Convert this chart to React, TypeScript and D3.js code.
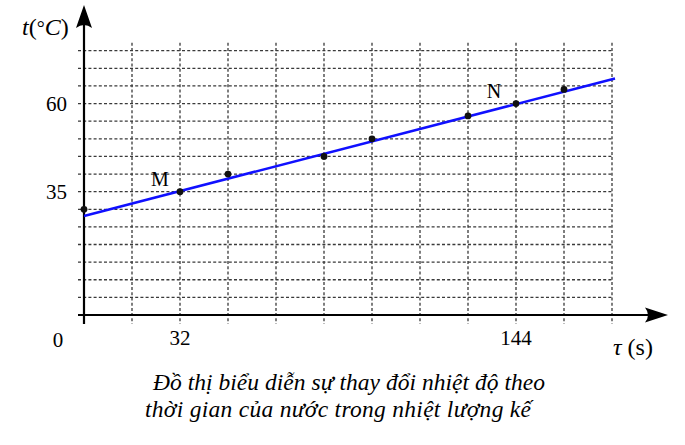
import * as d3 from 'd3';
import React from 'react';

const WIDTH = 685;
const HEIGHT = 445;

// measured points (time in s, temperature in °C)
const tauValues = [0, 32, 48, 80, 96, 128, 144, 160];
const tempValues = [30, 35, 40, 45, 50, 56.5, 60, 64];

// fitted straight line through M and N
const fitTau = [0, 177];
const fitTemp = [28.1, 67.1];

const xTickValues = [32, 144];
const xTickLabels = ['32', '144'];
const yTickValues = [35, 60];
const yTickLabels = ['35', '60'];

const labelNames = ['M', 'N'];
const labelTau = [32, 144];
const labelTemp = [35, 60];

const captionLines = [
  'Đồ thị biểu diễn sự thay đổi nhiệt độ theo',
  'thời gian của nước trong nhiệt lượng kế',
];

const X_MAX = 176;
const Y_MAX = 75;
const X_STEP = 16;
const Y_STEP = 5;

const SERIF = 'Liberation Serif';
const GRID_COLOR = '#3a3a3a';

const x = d3.scaleLinear().domain([0, X_MAX]).range([84, 612]);
const y = d3.scaleLinear().domain([0, Y_MAX]).range([315, 50.7]);

const fitLine = d3
  .line<number>()
  .x(d => x(d))
  .y((d, i) => y(fitTemp[i]));

const App: React.FC = () => {
  const xGrid = d3.range(X_STEP, X_MAX + 1, X_STEP);
  const yGrid = d3.range(Y_STEP, Y_MAX + 1, Y_STEP);
  const cx = x(0);
  const cy = y(0);

  return (
    <svg width={WIDTH} height={HEIGHT} style={{ position: 'absolute', left: 0, top: 0, background: '#fff' }}>
      {/* dashed grid */}
      <g stroke={GRID_COLOR} strokeWidth={1.3} strokeDasharray="3,2.2">
        {xGrid.map(d => (
          <line key={`v${d}`} x1={x(d)} x2={x(d)} y1={y(Y_MAX) - 8} y2={cy + 9} />
        ))}
        {yGrid.map(d => (
          <line key={`h${d}`} x1={cx - 6} x2={x(X_MAX) + 1} y1={y(d)} y2={y(d)} />
        ))}
      </g>

      {/* axes with arrow heads */}
      <g stroke="#000" strokeWidth={2.2}>
        <line x1={cx} x2={cx} y1={cy + 9} y2={20} />
        <line x1={cx - 6} x2={655} y1={cy} y2={cy} />
      </g>
      <path d={`M${cx},5 L${cx + 8},28 Q${cx},22 ${cx - 8},28 Z`} fill="#000" />
      <path d={`M668,${cy} L645,${cy - 7.5} Q651,${cy} 645,${cy + 7.5} Z`} fill="#000" />

      {/* fitted line */}
      <path d={fitLine(fitTau) || ''} fill="none" stroke="#1010ff" strokeWidth={2.6} />

      {/* measured points */}
      {tauValues.map((d, i) => (
        <circle key={`p${i}`} cx={x(d)} cy={y(tempValues[i])} r={3.4} fill="#111" />
      ))}

      {/* point labels */}
      {labelNames.map((d, i) => (
        <text
          key={d}
          x={x(labelTau[i]) - (i === 0 ? 20 : 22)}
          y={y(labelTemp[i]) - 6}
          textAnchor="middle"
          fontFamily={SERIF}
          fontSize={20}
        >
          {d}
        </text>
      ))}

      {/* tick labels */}
      {xTickValues.map((d, i) => (
        <text key={`xt${d}`} x={x(d)} y={345} textAnchor="middle" fontFamily={SERIF} fontSize={21}>
          {xTickLabels[i]}
        </text>
      ))}
      {yTickValues.map((d, i) => (
        <text key={`yt${d}`} x={67} y={y(d) + 7} textAnchor="end" fontFamily={SERIF} fontSize={21}>
          {yTickLabels[i]}
        </text>
      ))}
      <text x={58} y={347} textAnchor="middle" fontFamily={SERIF} fontSize={21}>
        0
      </text>

      {/* axis titles */}
      <text x={22} y={35} fontFamily={SERIF} fontSize={24}>
        <tspan fontStyle="italic">t</tspan>
        <tspan>(</tspan>
        <tspan fontSize={20}>°</tspan>
        <tspan fontStyle="italic">C</tspan>
        <tspan>)</tspan>
      </text>
      <text x={613} y={355} fontFamily={SERIF} fontSize={24}>
        <tspan fontStyle="italic">τ</tspan>
        <tspan dx={6}>(s)</tspan>
      </text>

      {/* caption */}
      {captionLines.map((d, i) => (
        <text
          key={`c${i}`}
          x={i === 0 ? 153 : 145}
          y={390 + i * 27}
          fontFamily={SERIF}
          fontStyle="italic"
          fontSize={23.5}
          textLength={i === 0 ? 392 : 386}
          lengthAdjust="spacing"
        >
          {d}
        </text>
      ))}
    </svg>
  );
};

export default App;
